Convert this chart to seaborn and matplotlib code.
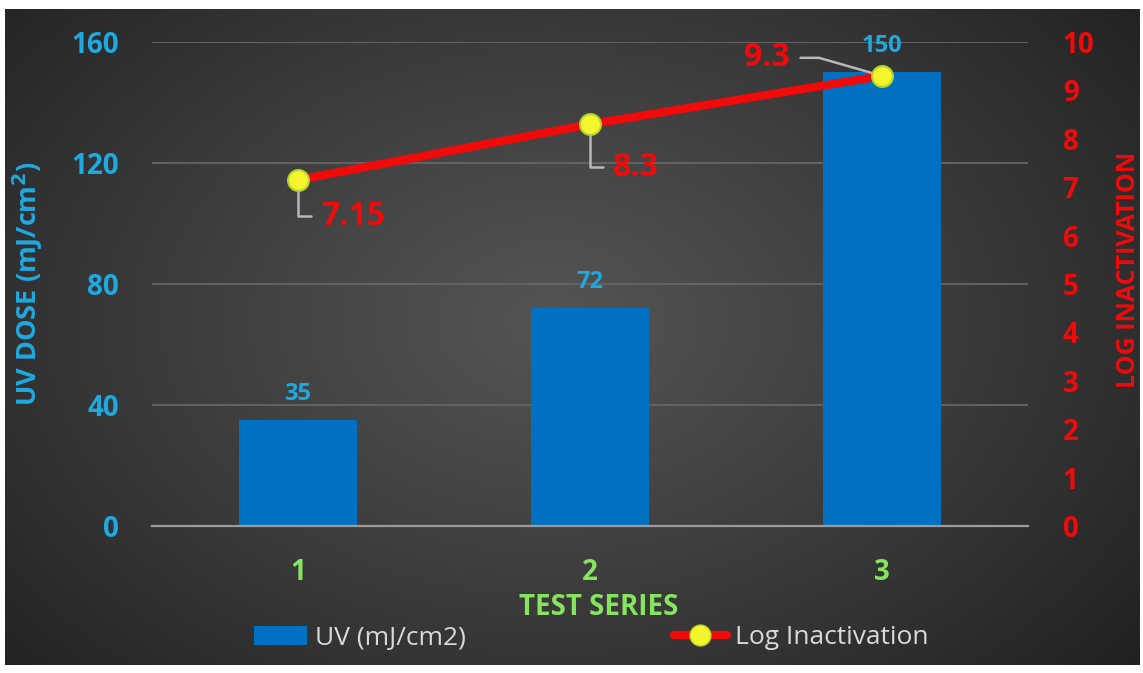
import numpy as np
import pandas as pd
import matplotlib
matplotlib.use("Agg")
import matplotlib.pyplot as plt
import seaborn as sns
from matplotlib.lines import Line2D
from matplotlib.patches import Patch

# Data
series = ["1", "2", "3"]
uv_dose = [35, 72, 150]
log_inactivation = [7.15, 8.3, 9.3]
log_labels = ["7.15", "8.3", "9.3"]
left_ticks = [0, 40, 80, 120, 160]
right_ticks = list(range(0, 11))

BLUE_BAR = "#0070C0"
BLUE_TXT = "#1FA9E1"
GREEN = "#86E45E"
RED = "#F00A0A"
YELLOW = "#F4F52C"
LEGEND_TXT = "#D9D9D9"

sns.set_theme(style="dark")
plt.rcParams["font.family"] = ["Open Sans", "DejaVu Sans"]

W, H = 1143, 673
fig = plt.figure(figsize=(W / 100, H / 100), dpi=100, facecolor="white")

# Dark radial-gradient panel behind the chart
bg = fig.add_axes([5 / W, 1 - 665 / H, (1140 - 5) / W, (665 - 9) / H], zorder=-10)
yy, xx = np.mgrid[0:300, 0:600]
cx, cy = 300 * 0.96, 150 * 0.95
r = np.sqrt(((xx - cx) / 330) ** 2 + ((yy - cy) / 200) ** 2)
r = np.clip(r, 0, 1.25) / 1.25
lum = 0.33 - (0.33 - 0.125) * r ** 1.1
img = np.dstack([lum, lum, lum])
bg.imshow(img, aspect="auto", extent=[0, 1, 0, 1], interpolation="bilinear")
bg.set_axis_off()

ax = fig.add_axes([152 / W, 1 - 526 / H, (1028 - 152) / W, (526 - 42) / H])
ax.patch.set_alpha(0)

df = pd.DataFrame({"series": series, "uv": uv_dose})
sns.barplot(data=df, x="series", y="uv", color=BLUE_BAR, saturation=1,
            width=0.405, ax=ax, zorder=3, edgecolor="none", linewidth=0)
ax.set_xlim(-0.5, 2.5)
ax.set_ylim(0, 160)
ax.set_yticks(left_ticks)
ax.yaxis.grid(True, color="#666666", lw=1.3, zorder=0)
ax.xaxis.grid(False)
ax.set_axisbelow(True)
for s in ["left", "right", "top"]:
    ax.spines[s].set_visible(False)
ax.spines["bottom"].set_visible(True)
ax.spines["bottom"].set_color("#9C9C9C")
ax.spines["bottom"].set_linewidth(1.6)
ax.spines["bottom"].set_zorder(4)
ax.tick_params(axis="y", length=0, pad=24, labelsize=20, labelcolor=BLUE_TXT)
ax.tick_params(axis="x", length=0, pad=23, labelsize=20, labelcolor=GREEN)
for t in ax.get_yticklabels() + ax.get_xticklabels():
    t.set_fontweight("bold")
ax.set_xlabel("TEST SERIES", color=GREEN, fontsize=20, fontweight="bold", labelpad=3)
ax.xaxis.set_label_coords(0.51, -0.138)
ax.set_ylabel("UV DOSE (mJ/cm$^\\mathbf{2}$)", color=BLUE_TXT, fontsize=19.5,
              fontweight="bold", labelpad=19)

# Bar value labels
for i, v in enumerate(uv_dose):
    ax.annotate(str(v), (i, v), xytext=(0, 19), textcoords="offset points",
                ha="center", va="center", color=BLUE_TXT, fontsize=17,
                fontweight="bold", zorder=6)

# Secondary axis: log inactivation
ax2 = ax.twinx()
ax2.set_ylim(0, 10)
ax2.set_yticks(right_ticks)
ax2.grid(False)
for s in ax2.spines.values():
    s.set_visible(False)
ax2.tick_params(axis="y", length=0, pad=25, labelsize=20, labelcolor=RED)
for t in ax2.get_yticklabels():
    t.set_fontweight("bold")
ax2.set_ylabel("LOG INACTIVATION", color=RED, fontsize=18, fontweight="bold")
ax2.yaxis.set_label_coords(1.101, 0.53)

ldf = pd.DataFrame({"pos": np.arange(len(series)), "log": log_inactivation})
sns.lineplot(data=ldf, x="pos", y="log", ax=ax2, color=RED, lw=6,
             marker="o", markersize=15, markerfacecolor=YELLOW,
             markeredgecolor="#B5D42A", markeredgewidth=1.5, zorder=5)
ax2.set_xlim(-0.5, 2.5)
ax2.set_xlabel("")

# Line value labels with leader lines
lead = dict(arrowstyle="-", color="#B8B8B8", lw=1.8, shrinkA=5, shrinkB=8)
offsets = [(17, -26), (16.5, -31), (-66, 13)]
for i, (v, lab) in enumerate(zip(log_inactivation, log_labels)):
    dx, dy = offsets[i]
    if dx > 0:
        cs = "angle,angleA=0,angleB=90,rad=0"
        ha = "left"
    else:
        cs = "angle,angleA=0,angleB=-16,rad=0"
        ha = "right"
    ax2.annotate(lab, (i, v), xytext=(dx, dy), textcoords="offset points",
                 ha=ha, va="center", color=RED, fontsize=23, fontweight="bold",
                 arrowprops=dict(lead, connectionstyle=cs), zorder=6)

# Legend
handles = [
    Patch(facecolor=BLUE_BAR, edgecolor="none"),
    Line2D([0], [0], color=RED, lw=6, marker="o", markersize=15,
           markerfacecolor=YELLOW, markeredgecolor="#B5D42A"),
]
leg = fig.legend(handles, ["UV (mJ/cm2)", "Log Inactivation"], loc="center",
                 bbox_to_anchor=(591 / W, 1 - 638 / H), ncol=2, frameon=False,
                 fontsize=19, handlelength=2.0, handletextpad=0.3,
                 columnspacing=7.9)
for t in leg.get_texts():
    t.set_color(LEGEND_TXT)

fig.savefig("out.png", dpi=100, facecolor="white")
